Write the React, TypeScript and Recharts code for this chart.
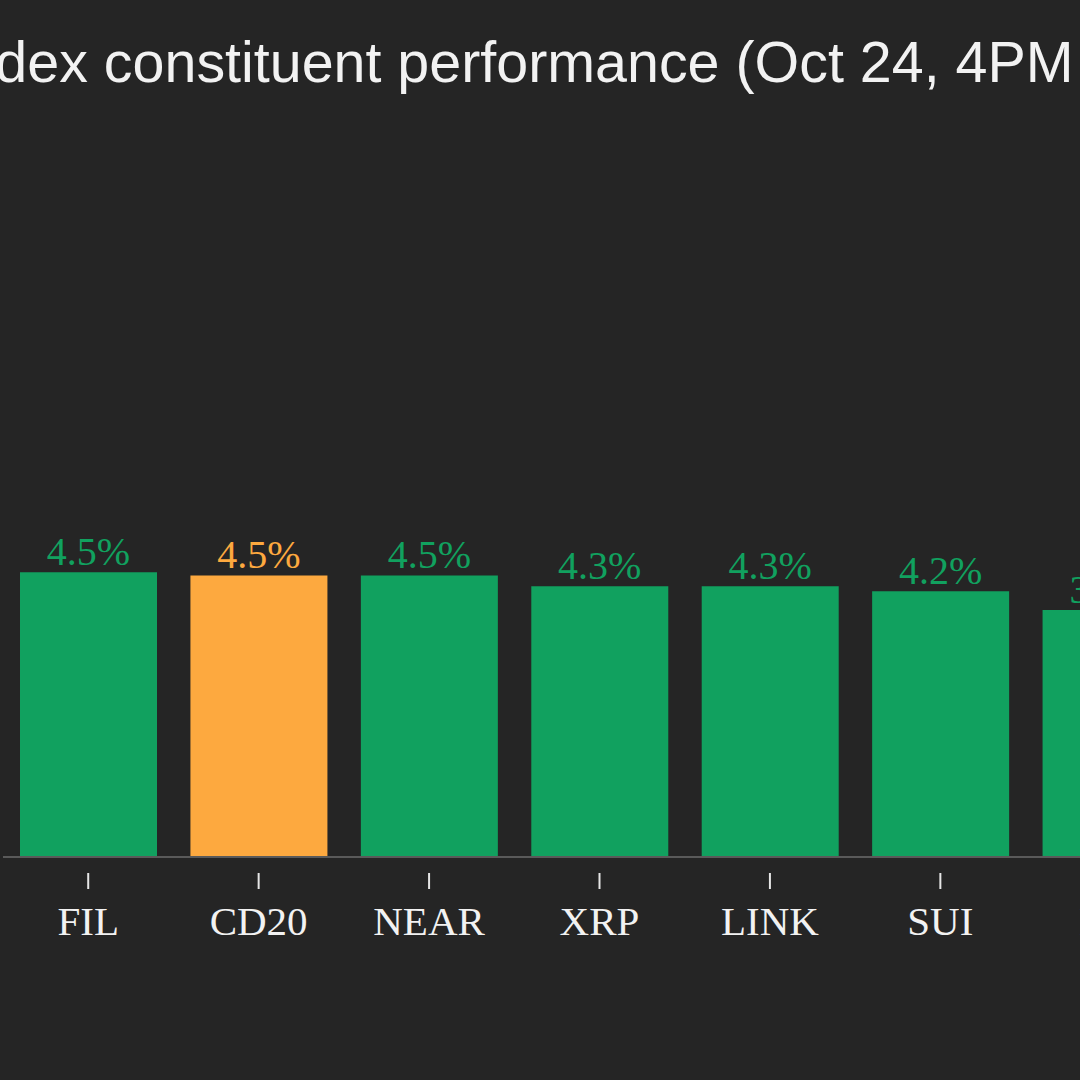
import { BarChart, Bar, XAxis, YAxis, Cell, LabelList } from "recharts";

const categories = ["FIL", "CD20", "NEAR", "XRP", "LINK", "SUI", "ICP"];
const changes = [4.54, 4.49, 4.49, 4.32, 4.32, 4.24, 3.94];
const highlight = "CD20";

const TITLE = "CoinDesk 20 Index constituent performance (Oct 24, 4PM ET)";

const BG = "#252525";
const GREEN = "#11a15f";
const ORANGE = "#fda93f";

const data = categories.map((name, i) => ({ name, change: changes[i] }));

const colorFor = (name: string) => (name === highlight ? ORANGE : GREEN);

function AxisTick(props: any) {
  const { x, y, payload } = props;
  return (
    <g>
      <line x1={x} x2={x} y1={y + 16} y2={y + 32} stroke="#e6e6e6" strokeWidth={2} />
      <text
        x={x}
        y={y + 78}
        textAnchor="middle"
        fill="#f2f2f2"
        fontFamily="'Liberation Serif', 'DejaVu Serif', serif"
        fontSize={41}
      >
        {payload.value}
      </text>
    </g>
  );
}

function ValueLabel(props: any) {
  const { x, y, width, index } = props;
  const name = categories[index];
  return (
    <text
      x={x + width / 2}
      y={y - 7}
      textAnchor="middle"
      fill={colorFor(name)}
      fontFamily="'Liberation Serif', 'DejaVu Serif', serif"
      fontSize={40}
    >
      {changes[index].toFixed(1) + "%"}
    </text>
  );
}

export default function App() {
  return (
    <div
      style={{
        position: "fixed",
        left: 0,
        top: 0,
        width: 1080,
        height: 1080,
        overflow: "hidden",
        background: BG,
      }}
    >
      <div
        style={{
          position: "absolute",
          left: -397,
          top: 29,
          whiteSpace: "nowrap",
          color: "#f2f2f2",
          fontFamily: "'Liberation Sans', Arial, sans-serif",
          fontSize: 57.4,
          lineHeight: "66px",
        }}
      >
        {TITLE}
      </div>
      <div style={{ position: "absolute", left: -3, top: 0 }}>
        <BarChart
          width={1204}
          height={1080}
          data={data}
          margin={{ top: 230, right: 5, bottom: 123, left: 6 }}
          barSize={137}
        >
          <XAxis
            dataKey="name"
            height={100}
            tickLine={false}
            tickSize={0}
            tickMargin={0}
            axisLine={{ stroke: "#5a5a5a", strokeWidth: 2 }}
            tick={<AxisTick />}
            interval={0}
          />
          <YAxis hide domain={[0, 10]} />
          <Bar dataKey="change" isAnimationActive={false}>
            {data.map((d) => (
              <Cell key={d.name} fill={colorFor(d.name)} />
            ))}
            <LabelList dataKey="change" content={<ValueLabel />} />
          </Bar>
        </BarChart>
      </div>
    </div>
  );
}
